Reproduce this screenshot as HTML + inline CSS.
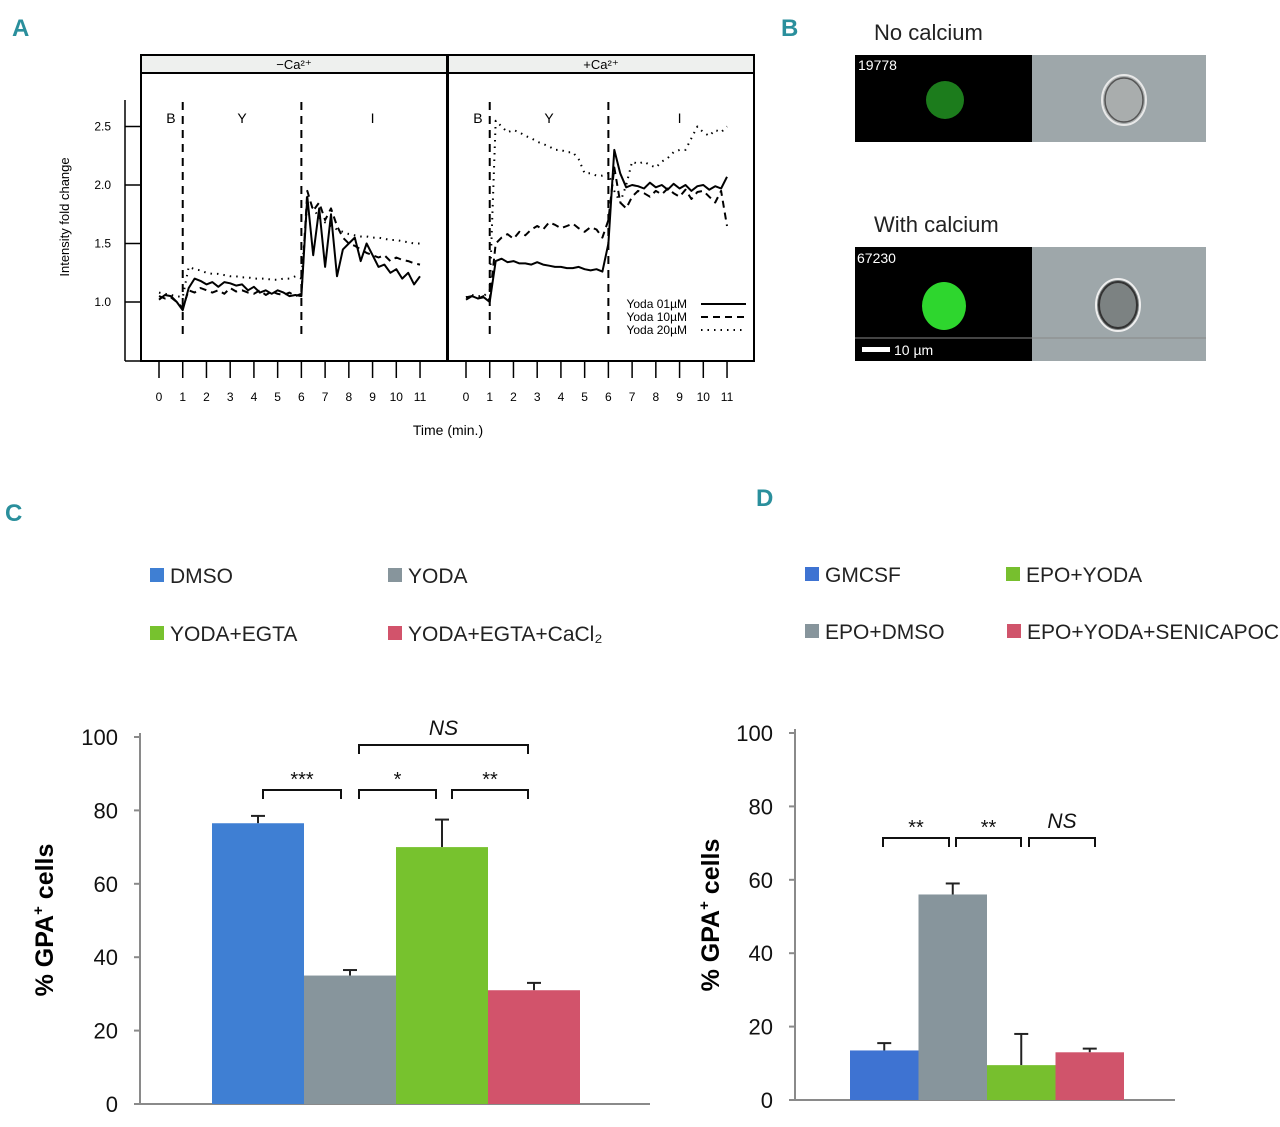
<!DOCTYPE html>
<html><head><meta charset="utf-8"><style>
html,body{margin:0;padding:0;background:#fff;}
svg{display:block;font-family:"Liberation Sans",sans-serif;}
</style></head><body>
<svg id="fig" width="1280" height="1127" viewBox="0 0 1280 1127" xmlns="http://www.w3.org/2000/svg">
<g font-family="Liberation Sans" font-weight="bold" fill="#2a8f9c" font-size="24">
<text x="12" y="36">A</text>
<text x="781" y="36">B</text>
<text x="5" y="521">C</text>
<text x="756" y="506">D</text>
</g>
<g id="panelA"></g>
<g id="panelB">
<text x="874" y="40" font-size="22" fill="#222">No calcium</text>
<rect x="855" y="55" width="177" height="87" fill="#000"/>
<circle cx="945" cy="100" r="19" fill="#1f8a1f" opacity="0.9"/>
<text x="858" y="70" font-size="14" fill="#fff">19778</text>
<rect x="1032" y="55" width="174" height="87" fill="#9ea7aa"/>
<ellipse cx="1124" cy="100" rx="22" ry="25" fill="#a9adad" stroke="#e8e8e8" stroke-width="2"/>
<ellipse cx="1124" cy="100" rx="19" ry="22" fill="none" stroke="#555" stroke-width="1.5"/>
<text x="874" y="232" font-size="22" fill="#222">With calcium</text>
<rect x="855" y="247" width="177" height="114" fill="#000"/>
<ellipse cx="944" cy="306" rx="22" ry="24" fill="#2ed62e"/>
<text x="857" y="263" font-size="14" fill="#fff">67230</text>
<rect x="1032" y="247" width="174" height="114" fill="#9ea7aa"/>
<ellipse cx="1118" cy="305" rx="22" ry="26" fill="#7c8282" stroke="#eee" stroke-width="2"/>
<ellipse cx="1118" cy="305" rx="19" ry="23" fill="none" stroke="#333" stroke-width="2"/>
<line x1="855" y1="338" x2="1206" y2="338" stroke="#888" stroke-width="1"/>
<rect x="862" y="347" width="28" height="5" fill="#fff"/>
<text x="894" y="355" font-size="14" fill="#fff">10 µm</text>
</g>
<g id="panelC"></g>
<g id="panelD"></g>
</svg>
<script>
// ---------- Panel A data ----------
const aTimes = [0,0.25,0.5,0.75,1,1.25,1.5,1.75,2,2.25,2.5,2.75,3,3.25,3.5,3.75,4,4.25,4.5,4.75,5,5.25,5.5,5.75,6,6.25,6.5,6.75,7,7.25,7.5,7.75,8,8.25,8.5,8.75,9,9.25,9.5,9.75,10,10.25,10.5,10.75,11];
const aXTicks = [0,1,2,3,4,5,6,7,8,9,10,11];
const aYTicks = [1.0,1.5,2.0,2.5];
const leftSolid =  [1.02,1.06,1.05,1.0,0.93,1.12,1.2,1.18,1.15,1.17,1.13,1.17,1.16,1.14,1.15,1.1,1.13,1.08,1.1,1.07,1.1,1.08,1.05,1.06,1.05,1.9,1.4,1.8,1.3,1.75,1.22,1.45,1.5,1.55,1.35,1.5,1.4,1.3,1.32,1.25,1.28,1.2,1.25,1.15,1.22];
const leftDashed = [1.05,1.03,1.04,1.0,0.95,1.1,1.08,1.12,1.1,1.08,1.1,1.07,1.12,1.09,1.1,1.08,1.07,1.1,1.06,1.09,1.07,1.06,1.08,1.05,1.07,1.95,1.78,1.85,1.7,1.8,1.65,1.55,1.5,1.48,1.45,1.42,1.4,1.38,1.4,1.35,1.38,1.36,1.35,1.33,1.32];
const leftDotted = [1.08,1.07,1.06,1.05,1.04,1.3,1.28,1.27,1.25,1.24,1.24,1.23,1.22,1.22,1.21,1.21,1.2,1.2,1.2,1.19,1.19,1.2,1.2,1.22,1.2,1.85,1.8,1.72,1.68,1.65,1.62,1.6,1.58,1.57,1.56,1.56,1.55,1.55,1.54,1.53,1.53,1.52,1.51,1.5,1.5];
const rightSolid = [1.02,1.05,1.03,1.04,1.0,1.35,1.37,1.34,1.35,1.33,1.33,1.32,1.34,1.32,1.31,1.3,1.3,1.29,1.29,1.3,1.28,1.27,1.28,1.26,1.5,2.3,2.1,1.98,2.0,1.99,1.97,2.02,1.98,2.0,1.96,2.01,1.97,2.0,1.95,1.99,2.0,1.96,1.99,1.97,2.07];
const rightDashed = [1.04,1.05,1.03,1.05,1.02,1.5,1.55,1.58,1.54,1.6,1.57,1.62,1.65,1.62,1.68,1.66,1.63,1.65,1.67,1.63,1.6,1.64,1.62,1.55,1.7,2.15,1.85,1.8,1.9,1.95,1.93,1.9,1.95,1.92,1.97,1.93,1.9,1.96,1.88,1.94,1.95,1.9,1.85,1.95,1.65];
const rightDotted = [1.04,1.06,1.05,1.05,1.1,2.55,2.5,2.45,2.47,2.45,2.42,2.4,2.37,2.35,2.33,2.3,2.3,2.28,2.28,2.22,2.1,2.1,2.08,2.08,2.1,1.95,1.85,2.0,2.2,2.18,2.2,2.17,2.15,2.2,2.23,2.28,2.3,2.3,2.4,2.5,2.45,2.42,2.47,2.45,2.5];
const aSeries = [["yoda-1uM", "", leftSolid, rightSolid], ["yoda-10uM", "7,5", leftDashed, rightDashed], ["yoda-20uM", "1.5,5", leftDotted, rightDotted]];
const aLegend = ["Yoda 01µM","Yoda 10µM","Yoda 20µM"];

// ---------- Panel C data ----------
const cCats = ["DMSO","YODA","YODA+EGTA","YODA+EGTA+CaCl₂"];
const cValues = [76.5,35,70,31];
const cErrors = [2,1.5,7.5,2];
const cColors = ["#3f7fd3","#87959c","#77c22e","#d2536b"];
const cYTicks = [0,20,40,60,80,100];
// ---------- Panel D data ----------
const dCats = ["GMCSF","EPO+DMSO","EPO+YODA","EPO+YODA+SENICAPOC"];
const dValues = [13.5,56,9.5,13];
const dErrors = [2,3,8.5,1];
const dColors = ["#3e73d2","#87959c","#77bf2e","#d0546b"];
const dYTicks = [0,20,40,60,80,100];

const NS="http://www.w3.org/2000/svg";
function mk(parent, tag, attrs, text){const e=document.createElementNS(NS,tag);for(const k in attrs)e.setAttribute(k,attrs[k]);if(text!==undefined)e.textContent=text;parent.appendChild(e);return e;}

// ---------- Panel A ----------
(function(){
const g=document.getElementById('panelA');
const yA=v=>302-(v-1)*117;
const panels=[{x0:141,x1:447,t0:159,title:"−Ca²⁺",idx:2},{x0:448,x1:754,t0:466,title:"+Ca²⁺",idx:3}];
const step=23.73;
let ax=mk(g,'line',{x1:125,y1:100,x2:125,y2:361,stroke:'#000','stroke-width':1.5});

aYTicks.forEach(v=>{
 let t=mk(g,'line',{x1:125,x2:140,y1:yA(v),y2:yA(v),stroke:'#000','stroke-width':1.5});
 
 let l=mk(g,'text',{x:111,y:yA(v)+4,'font-size':12,'text-anchor':'end'},v.toFixed(1));
 
});
let yt=mk(g,'text',{x:0,y:0,'font-size':13,'text-anchor':'middle',transform:'translate(69,217) rotate(-90)'},'Intensity fold change');

let xa=mk(g,'line',{x1:125,y1:361,x2:755,y2:361,stroke:'#000','stroke-width':1.5});

let xt=mk(g,'text',{x:448,y:435,'font-size':14,'text-anchor':'middle'},'Time (min.)');

panels.forEach((p,pi)=>{
 const xA=t=>p.t0+t*step;
 let fr=mk(g,'rect',{x:p.x0,y:55,width:p.x1-p.x0,height:306,fill:'none',stroke:'#000','stroke-width':2});
 
 let st=mk(g,'rect',{x:p.x0,y:55,width:p.x1-p.x0,height:18,fill:'#eef0ee',stroke:'#000','stroke-width':2});
 
 let stt=mk(g,'text',{x:(p.x0+p.x1)/2,y:69,'font-size':13,'text-anchor':'middle'},p.title);
 
 aXTicks.forEach(t=>{
  let tk=mk(g,'line',{x1:xA(t),x2:xA(t),y1:361,y2:378,stroke:'#000','stroke-width':1.5});
  
  let tl=mk(g,'text',{x:xA(t),y:401,'font-size':12,'text-anchor':'middle'},String(t));
  
 });
 [1,6].forEach(t=>{
  let vl=mk(g,'line',{x1:xA(t),x2:xA(t),y1:102,y2:334,stroke:'#000','stroke-width':2,'stroke-dasharray':'8,6'});
  
 });
 [["B",0.5],["Y",3.5],["I",9]].forEach(([s,t])=>{
  let pl=mk(g,'text',{x:xA(t),y:123,'font-size':14,'text-anchor':'middle'},s);
  
 });
 aSeries.forEach(s=>{
  const vals=s[p.idx];
  const d=vals.map((v,i)=>(i?'L':'M')+xA(aTimes[i]).toFixed(1)+','+yA(v).toFixed(1)).join(' ');
  const at={d:d,fill:'none',stroke:'#000','stroke-width':2,'stroke-linejoin':'round'};
  if(s[1])at['stroke-dasharray']=s[1];
  let pa=mk(g,'path',at);
  
 });
});
aLegend.forEach((n,i)=>{
 const y=304+i*13;
 let lt=mk(g,'text',{x:687,y:y+4,'font-size':12,'text-anchor':'end'},n);
 
 const at={x1:701,x2:746,y1:y,y2:y,stroke:'#000','stroke-width':2};
 if(aSeries[i][1])at['stroke-dasharray']=aSeries[i][1];
 let ll=mk(g,'line',at);
 
});
})();

// ---------- Bar chart helper ----------
function bars(gid,cfg){
 const g=document.getElementById(gid);
 const yS=v=>cfg.y0-v*(cfg.y0-cfg.y100)/100;
 let ya=mk(g,'line',{x1:cfg.ax,x2:cfg.ax,y1:cfg.y100-4,y2:cfg.y0,stroke:'#8a8a8a','stroke-width':2});
 
 let xa=mk(g,'line',{x1:cfg.ax,x2:cfg.xend,y1:cfg.y0,y2:cfg.y0,stroke:'#8a8a8a','stroke-width':2});
 
 cfg.ticks.forEach(v=>{
  let t=mk(g,'line',{x1:cfg.ax-6,x2:cfg.ax,y1:yS(v),y2:yS(v),stroke:'#8a8a8a','stroke-width':2});
  
  let l=mk(g,'text',{x:cfg.ax-22,y:yS(v)+8,'font-size':22,'text-anchor':'end',fill:'#111'},String(v));
  
 });
 let ttl=mk(g,'text',{x:0,y:0,'font-size':25,'font-weight':'bold','text-anchor':'middle',transform:`translate(${cfg.titleX},${cfg.titleY}) rotate(-90)`});
 
 ttl.innerHTML='% GPA<tspan font-size="15" dy="-10">+</tspan><tspan dy="10"> cells</tspan>';
 cfg.values.forEach((v,i)=>{
  const x=cfg.bx0+i*cfg.bw;
  let e=mk(g,'line',{x1:x+cfg.bw/2,x2:x+cfg.bw/2,y1:yS(v),y2:yS(v+cfg.errors[i]),stroke:'#222','stroke-width':2});
  
  let c=mk(g,'line',{x1:x+cfg.bw/2-7,x2:x+cfg.bw/2+7,y1:yS(v+cfg.errors[i]),y2:yS(v+cfg.errors[i]),stroke:'#222','stroke-width':2});
  
  let r=mk(g,'rect',{x:x,y:yS(v),width:cfg.bw,height:cfg.y0-yS(v),fill:cfg.colors[i]});
  
 });
 cfg.legend.forEach((lp,i)=>{
  let s=mk(g,'rect',{x:lp[0],y:lp[1]-8,width:14,height:14,fill:cfg.colors[i]});
  
  let t=mk(g,'text',{x:lp[0]+20,y:lp[1]+7,'font-size':21,fill:'#222'},cfg.cats[i]);
  
 });
 cfg.brackets.forEach(b=>{
  let p=mk(g,'path',{d:`M${b[0]},${b[2]+9} V${b[2]} H${b[1]} V${b[2]+9}`,fill:'none',stroke:'#111','stroke-width':2});
  
  const ns=b[3]==='NS';
  let t=mk(g,'text',{x:(b[0]+b[1])/2,y:b[2]-(ns?10:4),'font-size':ns?21:20,'font-style':ns?'italic':'normal','text-anchor':'middle',fill:'#111'},b[3]);
  
 });
}
bars('panelC',{p:'c',y0:1104,y100:737,ax:140,xend:650,bx0:212,bw:92,values:cValues,errors:cErrors,colors:cColors,cats:cCats,ticks:cYTicks,titleX:53,titleY:920,
 legend:[[150,576],[388,576],[150,634],[388,634]],
 brackets:[[263,341,790,'***'],[359,436,790,'*'],[452,528,790,'**'],[359,528,745,'NS']]});
bars('panelD',{p:'d',y0:1100,y100:733,ax:795,xend:1175,bx0:850,bw:68.5,values:dValues,errors:dErrors,colors:dColors,cats:dCats,ticks:dYTicks,titleX:719,titleY:915,
 legend:[[805,575],[805,632],[1006,575],[1007,632]],
 brackets:[[883,949,838,'**'],[956,1021,838,'**'],[1029,1095,838,'NS']]});
</script>
</body></html>
